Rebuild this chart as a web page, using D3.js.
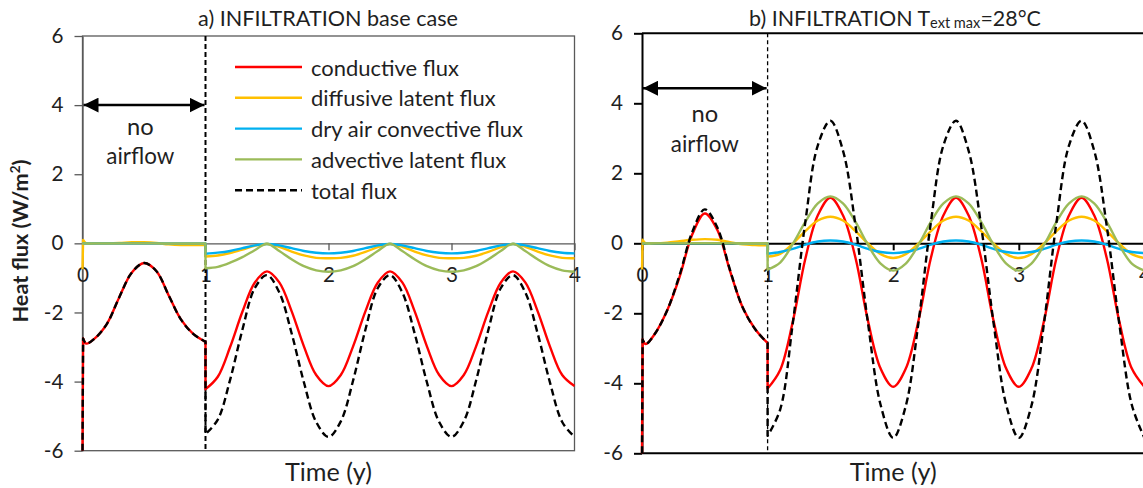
<!DOCTYPE html>
<html>
<head>
<meta charset="utf-8">
<script src="https://cdn.jsdelivr.net/npm/d3@7"></script>
<style>
  body { margin: 0; background: #fff; }
  svg { display: block; font-family: Lato, "Open Sans", sans-serif; }
</style>
</head>
<body>
<svg id="chart" width="1143" height="488"></svg>
<script>
// ************************************
// Data
// ************************************

// time in years: first year without airflow, then three years with infiltration
const tNoFlow = [0.005, 0.03, 0.1, 0.2, 0.3, 0.4, 0.5, 0.6, 0.7, 0.8, 0.9, 1.0];
const tFlow = [1.0, 1.1, 1.2, 1.3, 1.4, 1.5, 1.6, 1.7, 1.8, 1.9,
               2.0, 2.1, 2.2, 2.3, 2.4, 2.5, 2.6, 2.7, 2.8, 2.9,
               3.0, 3.1, 3.2, 3.3, 3.4, 3.5, 3.6, 3.7, 3.8, 3.9, 4.0];

const seriesNames = ["conductive flux", "diffusive latent flux", "dry air convective flux",
                     "advective latent flux", "total flux"];
const yTicks = [-6, -4, -2, 0, 2, 4, 6];
const xTicks = [0, 1, 2, 3, 4];

// a) base case
const aCondStart = -6;
const aCondNoFlow = [-2.75, -2.9, -2.75, -2.32, -1.55, -0.85, -0.57, -0.8, -1.5, -2.2, -2.62, -2.85];
const aCondFlow = [-4.22, -3.86, -3.0, -1.98, -1.14, -0.81, -1.13, -1.96, -2.98, -3.81,
                   -4.13, -3.81, -2.98, -1.97, -1.14, -0.81, -1.13, -1.96, -2.98, -3.81,
                   -4.13, -3.81, -2.98, -1.97, -1.14, -0.81, -1.13, -1.96, -2.98, -3.81, -4.13];
const aDiffStart = -0.75;
const aDiffNoFlow = [0.1, 0.0, 0.0, 0.0, 0.01, 0.03, 0.03, 0.01, -0.03, -0.05, -0.05, -0.05];
const aDiffFlow = [-0.38, -0.35, -0.28, -0.18, -0.07, -0.02, -0.1, -0.24, -0.35, -0.42,
                   -0.43, -0.42, -0.36, -0.25, -0.11, -0.02, -0.1, -0.24, -0.35, -0.42,
                   -0.43, -0.42, -0.36, -0.25, -0.11, -0.02, -0.1, -0.24, -0.35, -0.42, -0.43];
const aDryStart = 0;
const aDryNoFlow = [0, 0, 0, 0, 0, 0, 0, 0, 0, 0, 0, 0];
const aDryFlow = [-0.3, -0.27, -0.22, -0.14, -0.06, -0.02, -0.06, -0.14, -0.22, -0.27,
                  -0.29, -0.27, -0.22, -0.14, -0.06, -0.02, -0.06, -0.14, -0.22, -0.27,
                  -0.29, -0.27, -0.22, -0.14, -0.06, -0.02, -0.06, -0.14, -0.22, -0.27, -0.29];
const aAdvStart = 0;
const aAdvNoFlow = [0, 0, 0, 0, 0, 0, 0, 0, 0, 0, 0, 0];
const aAdvFlow = [-0.72, -0.68, -0.56, -0.4, -0.2, -0.01, -0.22, -0.46, -0.66, -0.78,
                  -0.82, -0.78, -0.66, -0.46, -0.22, -0.01, -0.22, -0.46, -0.66, -0.78,
                  -0.82, -0.78, -0.66, -0.46, -0.22, -0.01, -0.22, -0.46, -0.66, -0.78, -0.82];
const aTotStart = -6;
const aTotNoFlow = [-2.75, -2.9, -2.75, -2.32, -1.55, -0.85, -0.57, -0.8, -1.5, -2.2, -2.62, -2.85];
const aTotFlow = [-5.52, -5.1, -3.95, -2.5, -1.3, -0.92, -1.42, -2.6, -4.02, -5.17,
                  -5.6, -5.15, -3.97, -2.5, -1.3, -0.92, -1.42, -2.6, -4.02, -5.17,
                  -5.6, -5.15, -3.97, -2.5, -1.3, -0.92, -1.42, -2.6, -4.02, -5.17, -5.6];

// b) T ext max = 28 °C
const bCondStart = -6;
const bCondNoFlow = [-2.75, -2.88, -2.6, -1.92, -0.95, 0.25, 0.85, 0.38, -0.78, -1.82, -2.45, -2.85];
const bCondFlow = [-4.15, -3.62, -2.25, -0.45, 0.8, 1.3, 0.8, -0.42, -2.23, -3.58,
                   -4.1, -3.58, -2.23, -0.42, 0.8, 1.3, 0.8, -0.42, -2.23, -3.58,
                   -4.1, -3.58, -2.23, -0.42, 0.8, 1.3, 0.8, -0.42, -2.23, -3.58, -4.1];
const bDiffStart = -0.75;
const bDiffNoFlow = [0.1, 0.0, 0.0, 0.02, 0.06, 0.1, 0.12, 0.1, 0.03, -0.03, -0.05, -0.06];
const bDiffFlow = [-0.38, -0.3, -0.01, 0.35, 0.65, 0.76, 0.65, 0.35, -0.01, -0.31,
                   -0.42, -0.31, -0.01, 0.35, 0.65, 0.76, 0.65, 0.35, -0.01, -0.31,
                   -0.42, -0.31, -0.01, 0.35, 0.65, 0.76, 0.65, 0.35, -0.01, -0.31, -0.42];
const bDryStart = 0;
const bDryNoFlow = [0, 0, 0, 0, 0, 0, 0, 0, 0, 0, 0, 0];
const bDryFlow = [-0.3, -0.25, -0.16, -0.04, 0.05, 0.08, 0.05, -0.04, -0.16, -0.25,
                  -0.28, -0.25, -0.16, -0.04, 0.05, 0.08, 0.05, -0.04, -0.16, -0.25,
                  -0.28, -0.25, -0.16, -0.04, 0.05, 0.08, 0.05, -0.04, -0.16, -0.25, -0.28];
const bAdvStart = 0;
const bAdvNoFlow = [0, 0, 0, 0, 0, 0, 0, 0, 0, 0, 0, 0];
const bAdvFlow = [-0.75, -0.55, -0.02, 0.61, 1.14, 1.34, 1.14, 0.61, -0.05, -0.58,
                  -0.78, -0.58, -0.05, 0.61, 1.14, 1.34, 1.14, 0.61, -0.05, -0.58,
                  -0.78, -0.58, -0.05, 0.61, 1.14, 1.34, 1.14, 0.61, -0.05, -0.58, -0.78];
const bTotStart = -6;
const bTotNoFlow = [-2.75, -2.88, -2.6, -1.92, -0.9, 0.32, 0.97, 0.45, -0.75, -1.82, -2.45, -2.85];
const bTotFlow = [-5.5, -4.75, -2.3, 0.6, 2.8, 3.5, 2.65, 0.5, -2.3, -4.62,
                  -5.56, -4.65, -2.3, 0.6, 2.8, 3.5, 2.65, 0.5, -2.3, -4.62,
                  -5.56, -4.65, -2.3, 0.6, 2.8, 3.5, 2.65, 0.5, -2.3, -4.62, -5.56];

const colors = ["#ff0000", "#ffc000", "#00b0f0", "#9bbb59", "#000000"];

// ************************************
// Helpers
// ************************************

const svg = d3.select("#chart");
const textColor = "#1f1f1f";

// scale a text's font so that it spans the width measured on the figure
function fitWidth(sel, target) {
  const base = parseFloat(sel.style("font-size"));
  const w = sel.node().getComputedTextLength();
  const size = base * target / w;
  sel.style("font-size", size + "px");
  return size;
}

// measure once the size used by the legend
const probe = svg.append("text").style("font-size", "20px").text("dry air convective flux");
const labelSize = fitWidth(probe, 212);
probe.remove();
const tickSize = labelSize * 0.94;

const panels = [
  {
    left: 82.5, right: 574.5, top: 36, bottom: 450.7,
    axisColor: "#595959", axisWidth: 1.3, frame: true, divider: 2, dividerDash: "5,3",
    arrowY: 4, noteX: 0.47, noteY: [126, 155],
    series: [
      [aCondStart, aCondNoFlow, aCondFlow],
      [aDiffStart, aDiffNoFlow, aDiffFlow],
      [aDryStart, aDryNoFlow, aDryFlow],
      [aAdvStart, aAdvNoFlow, aAdvFlow],
      [aTotStart, aTotNoFlow, aTotFlow]
    ],
    legend: true
  },
  {
    left: 642, right: 1144.4, top: 33.3, bottom: 453.3,
    axisColor: "#000", axisWidth: 2, frame: false, divider: 1.3, dividerDash: "4,3",
    arrowY: 4.43, noteX: 0.5, noteY: [113, 143],
    series: [
      [bCondStart, bCondNoFlow, bCondFlow],
      [bDiffStart, bDiffNoFlow, bDiffFlow],
      [bDryStart, bDryNoFlow, bDryFlow],
      [bAdvStart, bAdvNoFlow, bAdvFlow],
      [bTotStart, bTotNoFlow, bTotFlow]
    ],
    legend: false
  }
];

// arrow heads
svg.append("defs").append("marker")
    .attr("id", "head")
    .attr("viewBox", "0 0 10 10")
    .attr("refX", 10).attr("refY", 5)
    .attr("markerWidth", 6).attr("markerHeight", 6)
    .attr("markerUnits", "strokeWidth")
    .attr("orient", "auto-start-reverse")
  .append("path")
    .attr("d", "M0,0 L10,5 L0,10 Z")
    .attr("fill", "#000");

// ************************************
// Panels
// ************************************

panels.forEach(p => {
  const x = d3.scaleLinear().domain([0, 4]).range([p.left, p.right]);
  const y = d3.scaleLinear().domain([-6, 6]).range([p.bottom, p.top]);
  const g = svg.append("g");

  // frame
  if (p.frame) {
    g.append("rect")
        .attr("x", x(0)).attr("y", y(6))
        .attr("width", x(4) - x(0)).attr("height", y(-6) - y(6))
        .attr("fill", "none")
        .attr("stroke", p.axisColor)
        .attr("stroke-width", p.axisWidth);
  } else {
    [6, -6].forEach(v => {
      g.append("line")
          .attr("x1", x(0)).attr("x2", x(4))
          .attr("y1", y(v)).attr("y2", y(v))
          .attr("stroke", p.axisColor)
          .attr("stroke-width", p.axisWidth);
    });
  }

  // y axis
  const yAxis = g.append("g")
      .attr("transform", `translate(${x(0)},0)`)
      .call(d3.axisLeft(y).tickValues(yTicks).tickSize(8).tickSizeOuter(0)
          .tickPadding(11).tickFormat(d => String(d)));

  // x axis sitting on y = 0
  const xAxis = g.append("g")
      .attr("transform", `translate(0,${y(0)})`)
      .call(d3.axisBottom(x).tickValues(xTicks).tickSize(7).tickSizeOuter(0)
          .tickPadding(17).tickFormat(d => String(d)));

  [yAxis, xAxis].forEach(ax => {
    ax.selectAll("path, line")
        .attr("stroke", p.axisColor)
        .attr("stroke-width", p.axisWidth);
    ax.selectAll("text")
        .attr("fill", textColor)
        .style("font-size", tickSize + "px")
        .style("font-family", "Lato, sans-serif");
  });

  // start of airflow
  g.append("line")
      .attr("x1", x(1)).attr("x2", x(1))
      .attr("y1", y(6)).attr("y2", y(-6))
      .attr("stroke", "#000")
      .attr("stroke-width", p.divider)
      .attr("stroke-dasharray", p.dividerDash);

  // series
  const line = d3.line()
      .x(d => x(d[0]))
      .y(d => y(d[1]))
      .curve(d3.curveCatmullRom.alpha(0.5));

  p.series.forEach((s, i) => {
    const [start, noFlow, flow] = s;
    const partA = tNoFlow.map((t, k) => [t, noFlow[k]]);
    const partB = tFlow.map((t, k) => [t, flow[k]]);
    const d = `M${x(0)},${y(start)}` +
        line(partA).replace(/^M/, "L") +
        line(partB).replace(/^M/, "L");
    g.append("path")
        .attr("d", d)
        .attr("fill", "none")
        .attr("stroke", colors[i])
        .attr("stroke-width", 2.4)
        .attr("stroke-linejoin", "round")
        .attr("stroke-dasharray", i === 4 ? "7,4" : null);
  });

  // "no airflow" marker
  g.append("line")
      .attr("x1", x(0) + 1).attr("x2", x(1) - 1)
      .attr("y1", y(p.arrowY)).attr("y2", y(p.arrowY))
      .attr("stroke", "#000")
      .attr("stroke-width", 2.5)
      .attr("marker-start", "url(#head)")
      .attr("marker-end", "url(#head)");

  ["no", "airflow"].forEach((w, k) => {
    const t = g.append("text")
        .attr("x", x(p.noteX))
        .attr("y", p.noteY[k])
        .attr("text-anchor", "middle")
        .attr("dominant-baseline", "central")
        .attr("fill", textColor)
        .style("font-size", "20px")
        .text(w);
    if (k === 0) t.style("font-size", labelSize * 1.08 + "px");
    else fitWidth(t, 68);
  });

  // axis title
  const xt = g.append("text")
      .attr("x", x(2))
      .attr("y", 471)
      .attr("text-anchor", "middle")
      .attr("dominant-baseline", "central")
      .attr("fill", textColor)
      .style("font-size", "20px")
      .text("Time (y)");
  fitWidth(xt, 87);

  // legend
  if (p.legend) {
    const lg = g.append("g").attr("transform", "translate(235,67)");
    seriesNames.forEach((name, i) => {
      const row = lg.append("g").attr("transform", `translate(0,${i * 30.8})`);
      row.append("line")
          .attr("x1", 0).attr("x2", 67)
          .attr("stroke", colors[i])
          .attr("stroke-width", 2.4)
          .attr("stroke-dasharray", i === 4 ? "7,4" : null);
      row.append("text")
          .attr("x", 76)
          .attr("dominant-baseline", "central")
          .attr("fill", textColor)
          .style("font-size", labelSize + "px")
          .text(name);
    });
  }
});

// titles
const ta = svg.append("text")
    .attr("x", 328).attr("y", 18)
    .attr("text-anchor", "middle")
    .attr("dominant-baseline", "central")
    .attr("fill", textColor)
    .style("font-size", "19px")
    .text("a) INFILTRATION base case");
fitWidth(ta, 260);

const tb = svg.append("text")
    .attr("x", 895).attr("y", 18)
    .attr("text-anchor", "middle")
    .attr("dominant-baseline", "central")
    .attr("fill", textColor)
    .style("font-size", "19px");
tb.append("tspan").text("b) INFILTRATION T");
tb.append("tspan").attr("dy", "0.3em").style("font-size", "0.68em").text("ext max");
tb.append("tspan").attr("dy", "-0.2em").text("=28°C");
fitWidth(tb, 292);

// y axis title
const yt = svg.append("text")
    .attr("transform", "translate(20,241) rotate(-90)")
    .attr("text-anchor", "middle")
    .attr("dominant-baseline", "central")
    .attr("fill", textColor)
    .style("font-size", "19px")
    .style("font-weight", "bold");
yt.append("tspan").text("Heat flux (W/m");
yt.append("tspan").attr("dy", "-0.4em").style("font-size", "0.62em").text("2");
yt.append("tspan").attr("dy", "0.25em").text(")");
fitWidth(yt, 163);
</script>
</body>
</html>
